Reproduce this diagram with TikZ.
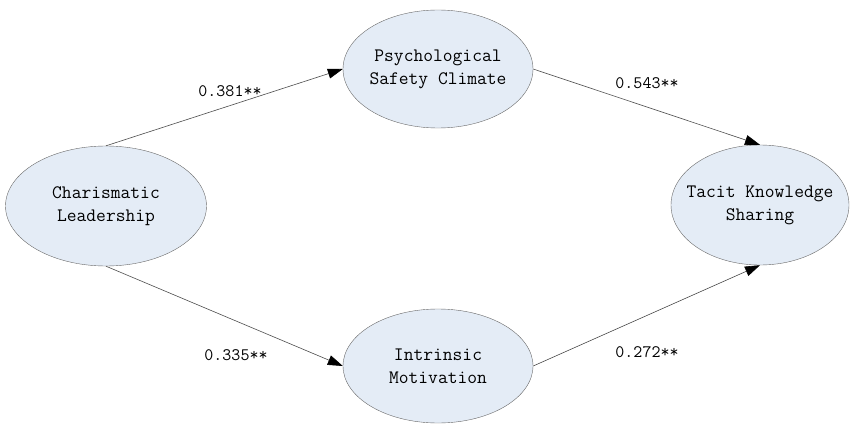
\documentclass[tikz,border=0pt]{standalone}
\usepackage{tikz}
\usetikzlibrary{shapes.geometric,arrows.meta,positioning}
\definecolor{construct}{RGB}{228,236,246}
\definecolor{rim}{RGB}{105,105,105}
\tikzset{
  construct/.style={ellipse,draw=rim,fill=construct,inner ysep=0pt,inner xsep=-12pt,align=center,
    font=\ttfamily\fontsize{19}{23}\selectfont},
  path/.style={draw=black!70,line width=0.6pt,-{Triangle[length=15pt,width=10pt,color=black,fill=black]}},
  coef/.style={font=\ttfamily\fontsize{17.5}{20}\selectfont}
}
\begin{document}
\begin{tikzpicture}[x=1pt,y=-1pt,line join=round]
      \useasboundingbox (0,0) rectangle (851,425);
      \node[construct,minimum width=201pt,minimum height=120pt] (cl) at (106,206) {Charismatic\\Leadership};
      \node[construct,minimum width=190pt,minimum height=118pt] (psc) at (438,69) {Psychological\\Safety Climate};
      \node[construct,minimum width=190pt,minimum height=114pt] (im) at (438,366) {Intrinsic\\Motivation};
      \node[construct,minimum width=178pt,minimum height=120pt] (tks) at (760,205) {Tacit Knowledge\\Sharing};
      \draw[path] (cl.north) -- (psc.west);
      \draw[path] (cl.south) -- (im.west);
      \draw[path] (psc.east) -- (tks.north);
      \draw[path] (im.east) -- (tks.south);
      \node[coef] (c1) at (230,91) {0.381**};
      \node[coef] (c2) at (647,83) {0.543**};
      \node[coef] (c3) at (236,355) {0.335**};
      \node[coef] (c4) at (647,352) {0.272**};
    \end{tikzpicture}
\end{document}
